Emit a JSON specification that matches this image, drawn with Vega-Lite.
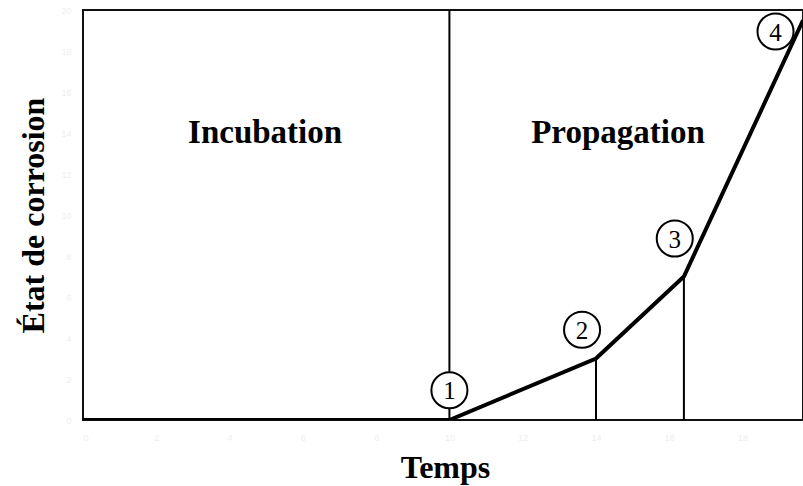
{
  "$schema": "https://vega.github.io/schema/vega-lite/v6.json",
  "width": 720,
  "height": 410,
  "autosize": {"type": "none"},
  "padding": {"left": 83, "top": 10, "right": 0, "bottom": 66},
  "config": {
    "view": {"stroke": "#111111", "strokeWidth": 2},
    "axis": {"domain": false, "ticks": false, "grid": false, "labelColor": "#eeeeee", "labelFont": "Liberation Sans", "labelFontSize": 9, "titleFont": "Liberation Serif", "titleFontWeight": "bold", "titleFontSize": 32, "titleColor": "#000000"}
  },
  "datasets": {
    "curve": [
      {"t": 0, "e": 0},
      {"t": 10, "e": 0},
      {"t": 14, "e": 3},
      {"t": 16.4, "e": 7},
      {"t": 19.65, "e": 19.5}
    ],
    "verticals": [
      {"t": 10, "y0": 0, "y1": 20},
      {"t": 14, "y0": 0, "y1": 3},
      {"t": 16.4, "y0": 0, "y1": 7}
    ],
    "markers": [
      {"t": 10, "e": 1.45, "n": "1"},
      {"t": 13.62, "e": 4.4, "n": "2"},
      {"t": 16.15, "e": 8.85, "n": "3"},
      {"t": 18.9, "e": 18.95, "n": "4"}
    ],
    "phases": [
      {"t": 4.97, "e": 13.5, "label": "Incubation"},
      {"t": 14.6, "e": 13.5, "label": "Propagation"}
    ]
  },
  "encoding": {
    "x": {"field": "t", "type": "quantitative", "scale": {"domain": [0, 19.65], "nice": false, "zero": false},
      "axis": {"title": "Temps", "values": [0, 2, 4, 6, 8, 10, 12, 14, 16, 18], "labelPadding": 13, "titleX": 362, "titleY": 57, "titleBaseline": "alphabetic"}},
    "y": {"field": "e", "type": "quantitative", "scale": {"domain": [0, 20], "nice": false},
      "axis": {"title": "État de corrosion", "values": [0, 2, 4, 6, 8, 10, 12, 14, 16, 18, 20], "labelPadding": 12, "titleX": -40, "titleY": 205, "titleAngle": -90, "titleAlign": "center", "titleBaseline": "alphabetic"}}
  },
  "layer": [
    {
      "data": {"name": "verticals"},
      "mark": {"type": "rule", "color": "#000000", "strokeWidth": 2},
      "encoding": {"y": {"field": "y0", "type": "quantitative"}, "y2": {"field": "y1"}}
    },
    {
      "data": {"name": "curve"},
      "mark": {"type": "line", "color": "#000000", "strokeWidth": 4, "clip": true, "strokeJoin": "miter"}
    },
    {
      "data": {"name": "markers"},
      "mark": {"type": "point", "shape": "circle", "filled": false, "fill": "#ffffff", "fillOpacity": 1, "stroke": "#000000", "strokeWidth": 2, "size": 1300, "opacity": 1}
    },
    {
      "data": {"name": "markers"},
      "mark": {"type": "text", "font": "Liberation Serif", "fontSize": 25, "color": "#000000", "baseline": "middle", "dy": 1},
      "encoding": {"text": {"field": "n"}}
    },
    {
      "data": {"name": "phases"},
      "mark": {"type": "text", "font": "Liberation Serif", "fontWeight": "bold", "fontSize": 33, "color": "#000000", "baseline": "alphabetic"},
      "encoding": {"text": {"field": "label"}}
    }
  ]
}
